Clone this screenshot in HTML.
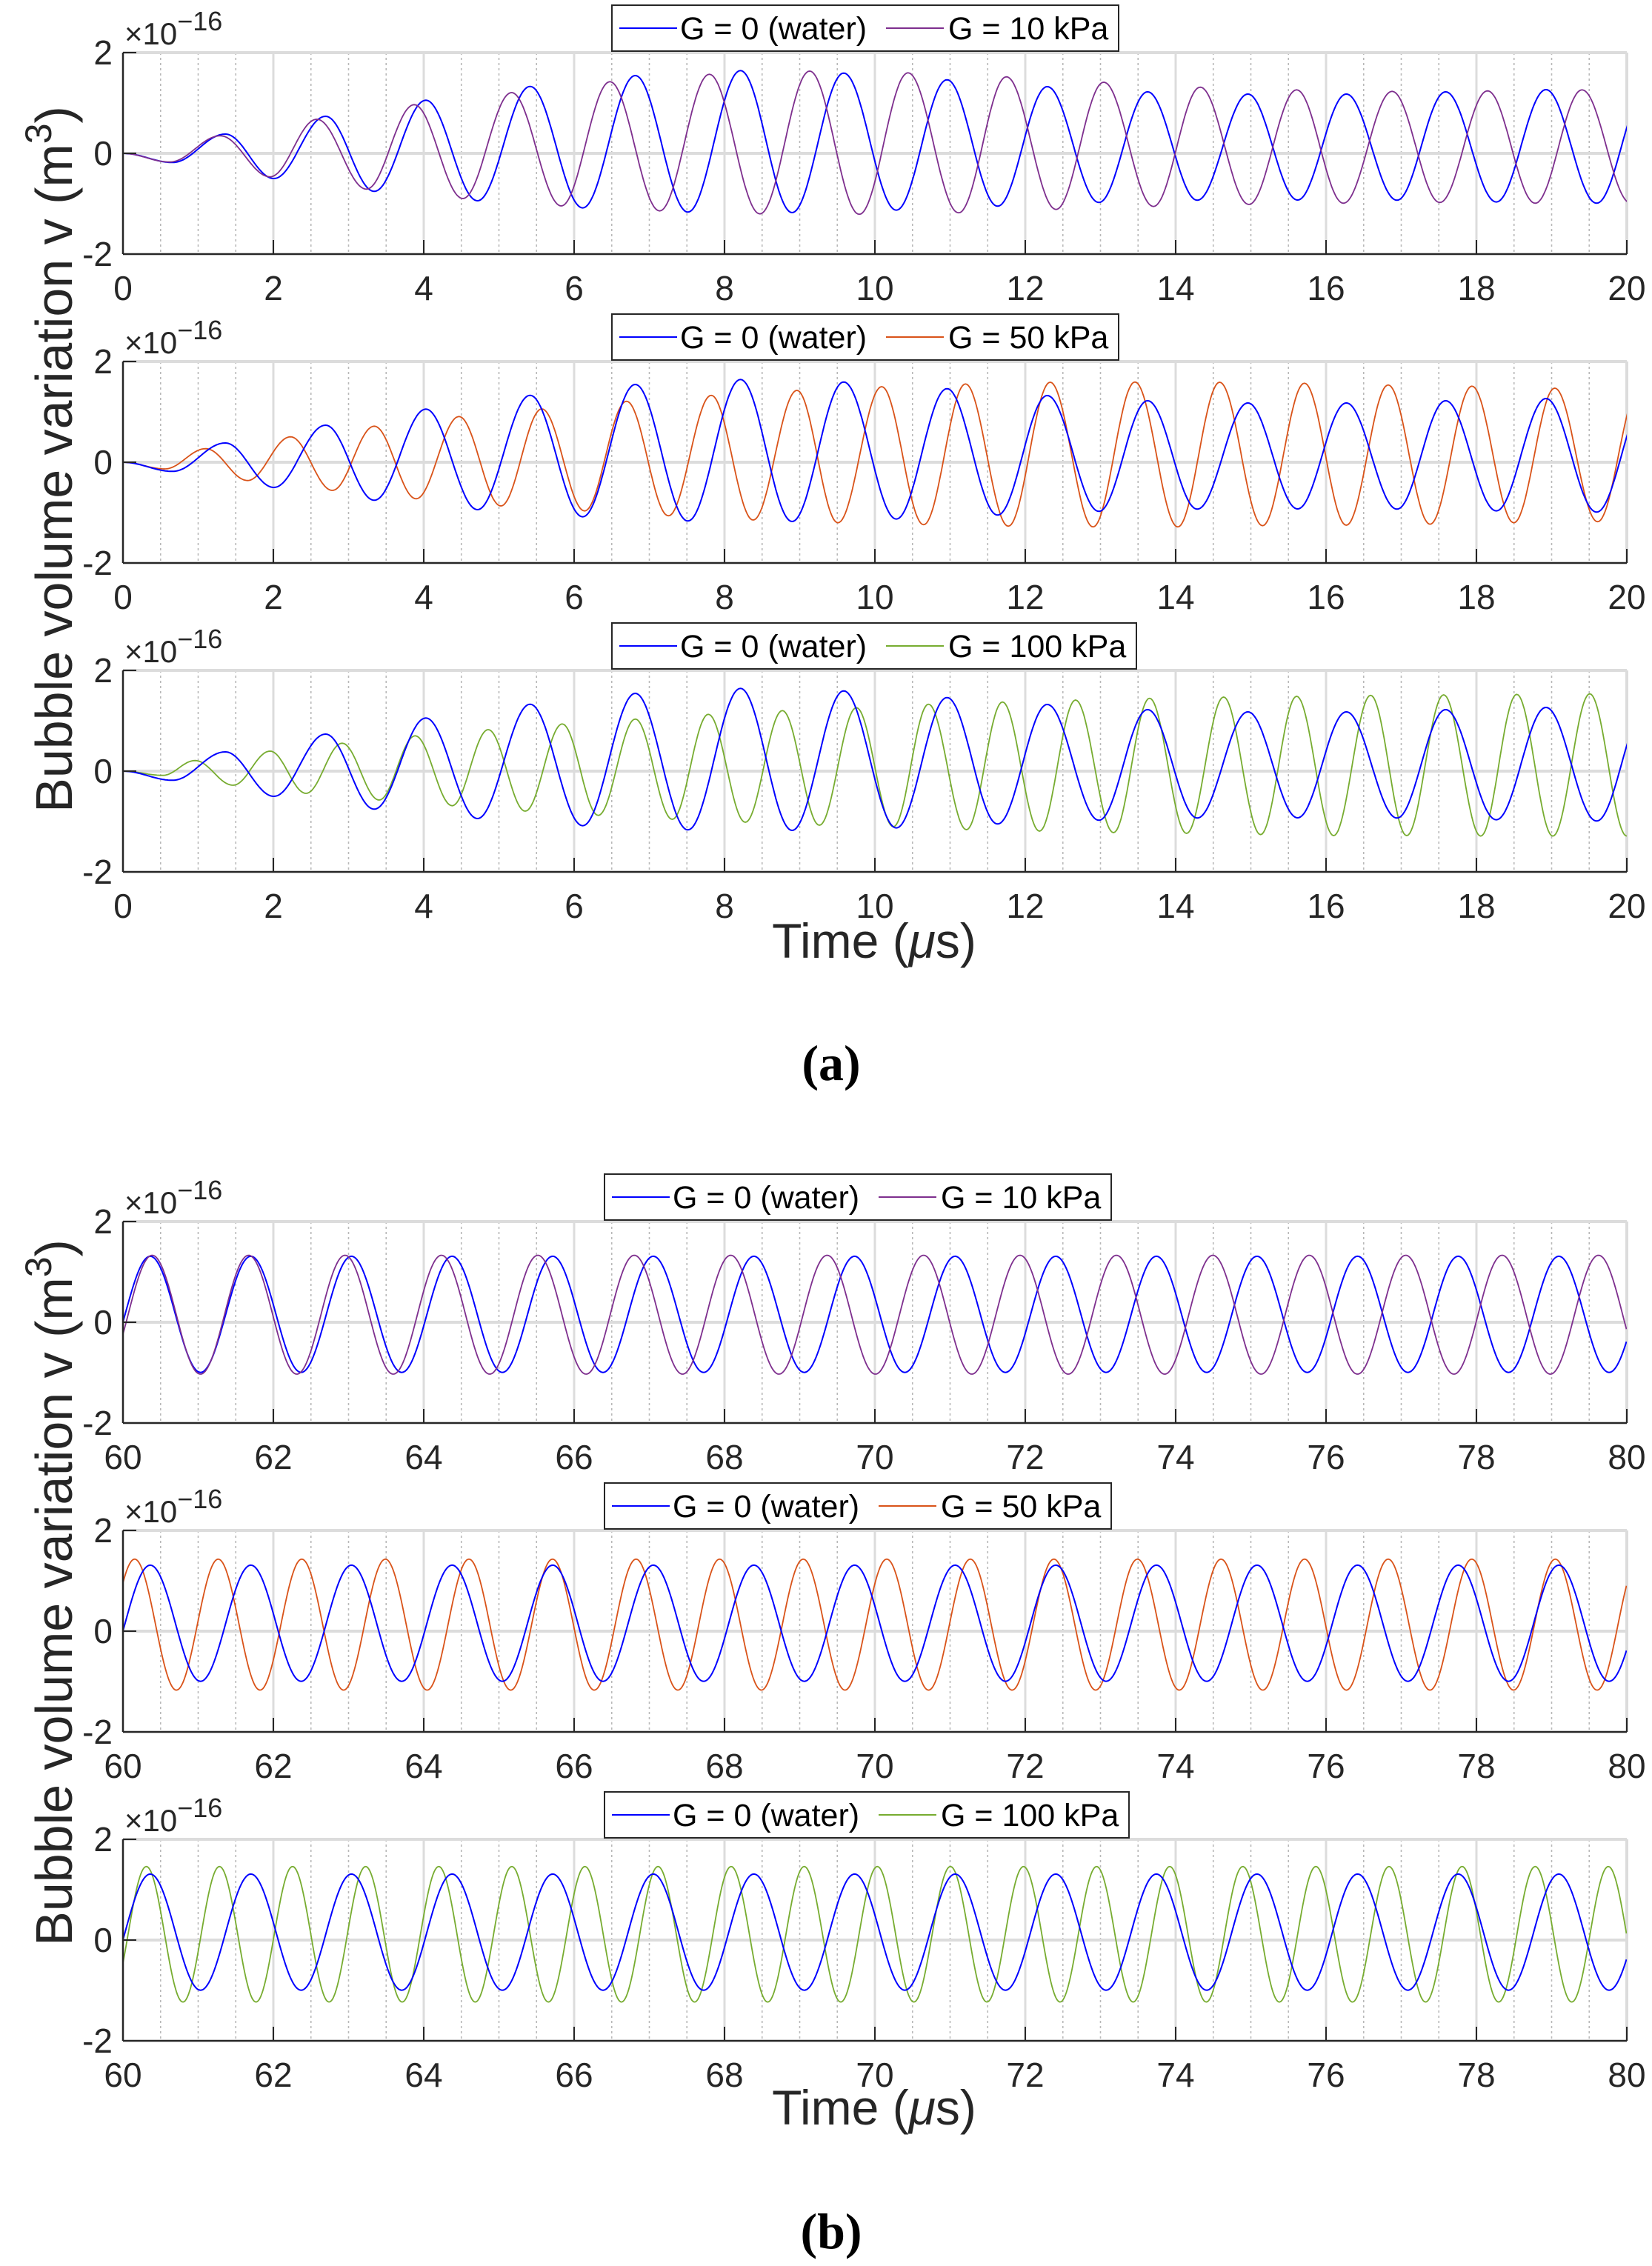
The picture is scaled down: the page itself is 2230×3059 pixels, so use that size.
<!DOCTYPE html>
<html><head><meta charset="utf-8"><style>
html,body{margin:0;padding:0;background:#fff;}
svg{display:block;}
text{font-family:"Liberation Sans",sans-serif;fill:#262626;}
</style></head><body>
<svg id="s" width="2230" height="3059" viewBox="0 0 2230 3059" xmlns="http://www.w3.org/2000/svg"></svg>
<script>
const X0=166, XW=2030, H=272;
const tops=[71,488,905,1649,2066,2483];
const C={b:'#0000ff',p:'#7E2F8E',o:'#D95319',g:'#77AC30'};
const aBlue=[[12,443],[63,480],[117,365],[167,545],[220,293],[270,597],[323,228],[376,635],[430,172],[484,664],[538,128],[592,681],[646,108],[699,683],[752,118],[806,673],[858,145],[910,657],[961,173],[1014,642],[1064,194],[1115,633],[1167,203],[1218,632],[1268,203],[1320,633],[1370,194],[1422,640],[1473,185],[1525,645],[1576,185]];
const aPur=[[12,443],[60,478],[112,372],[163,538],[211,305],[262,588],[311,246],[361,626],[411,197],[462,656],[512,153],[563,676],[614,123],[666,688],[717,110],[768,690],[818,117],[870,684],[919,133],[970,670],[1019,155],[1070,658],[1118,175],[1168,650],[1217,186],[1265,645],[1315,192],[1364,642],[1413,190],[1462,645],[1510,186],[1560,645]];
const aOr=[[12,443],[55,470],[97,388],[140,517],[184,340],[227,557],[270,297],[313,591],[357,258],[400,620],[442,227],[486,640],[529,196],[572,660],[616,172],[659,677],[704,152],[746,688],[791,137],[834,696],[877,126],[921,702],[964,119],[1008,705],[1051,118],[1095,705],[1138,119],[1182,700],[1225,123],[1268,698],[1311,130],[1354,694],[1397,135],[1440,688],[1482,143],[1526,684],[1569,143]];
const aGr=[[12,443],[53,460],[86,400],[125,500],[163,362],[200,533],[237,330],[275,560],[312,300],[350,583],[387,275],[425,605],[463,252],[500,622],[538,232],[576,638],[613,213],[651,650],[689,198],[727,662],[765,186],[803,668],[839,172],[878,680],[915,163],[953,686],[990,155],[1029,692],[1066,148],[1104,695],[1142,143],[1180,700],[1217,140],[1255,704],[1293,136],[1330,704],[1368,134],[1406,706],[1443,132],[1480,706],[1518,130],[1556,706]];
function pathExt(ext,top){
  let d='';
  for(let i=0;i<ext.length-1;i++){
    const a=ext[i],b=ext[i+1];
    const t0=(a[0]-12)/77.2,t1=(b[0]-12)/77.2;
    const v0=(443-a[1])/204,v1=(443-b[1])/204;
    const n=Math.max(6,Math.round((t1-t0)*101.5/2));
    for(let k=(i==0?0:1);k<=n;k++){
      const s=k/n,t=t0+(t1-t0)*s,v=v0+(v1-v0)*(1-Math.cos(Math.PI*s))/2;
      d+=(d?'L':'M')+(X0+t*101.5).toFixed(1)+','+(top+136-v*68).toFixed(1);
    }
  }
  return d;
}
function pathSin(p0,P,vmax,vmin,top){
  const mid=(vmax+vmin)/2,amp=(vmax-vmin)/2;let d='';
  for(let x=0;x<=XW;x+=1.5){
    const zx=12+x/101.5*77.2;
    const v=mid+amp*Math.cos(2*Math.PI*(zx-p0)/P);
    d+=(d?'L':'M')+(X0+x).toFixed(1)+','+(top+136-v*68).toFixed(1);
  }
  return d;
}
let out='<defs>';
tops.forEach((t,i)=>{out+=`<clipPath id="c${i}"><rect x="${X0}" y="${t}" width="${XW}" height="${H}"/></clipPath>`;});
out+='</defs>';
const second=[['G = 10 kPa',C.p],['G = 50 kPa',C.o],['G = 100 kPa',C.g]];
tops.forEach((top,i)=>{
  const isB=i>=3, j=i%3, off=isB?60:0;
  for(let k=1;k<40;k++){ if(k%4==0) continue; const x=X0+k*XW/40;
    out+=`<line x1="${x}" y1="${top}" x2="${x}" y2="${top+H}" stroke="#b8b8b8" stroke-width="1.6" stroke-dasharray="3,4"/>`;}
  for(let k=1;k<10;k++){const x=X0+k*XW/10;
    out+=`<line x1="${x}" y1="${top}" x2="${x}" y2="${top+H}" stroke="#dcdcdc" stroke-width="3"/>`;}
  out+=`<line x1="${X0}" y1="${top+136}" x2="${X0+XW}" y2="${top+136}" stroke="#dcdcdc" stroke-width="4"/>`;
  out+=`<line x1="${X0}" y1="${top}" x2="${X0+XW}" y2="${top}" stroke="#dcdcdc" stroke-width="4"/>`;
  out+=`<line x1="${X0+XW}" y1="${top}" x2="${X0+XW}" y2="${top+H}" stroke="#dcdcdc" stroke-width="4"/>`;
  let d2,db;
  if(!isB){ db=pathExt(aBlue,top); d2=pathExt([aPur,aOr,aGr][j],top);}
  else{ db=pathSin(40,103.3,1.31,-0.995,top);
    d2=[pathSin(42,99,1.33,-1.03,top),pathSin(24,85.8,1.43,-1.17,top),pathSin(36,75.05,1.46,-1.23,top)][j];}
  out+=`<g clip-path="url(#c${i})" fill="none" stroke-linejoin="round">`;
  if(j==0){out+=`<path d="${db}" stroke="${C.b}" stroke-width="2"/><path d="${d2}" stroke="${second[j][1]}" stroke-width="1.8"/>`;}
  else{out+=`<path d="${d2}" stroke="${second[j][1]}" stroke-width="1.8"/><path d="${db}" stroke="${C.b}" stroke-width="2"/>`;}
  out+='</g>';
  out+=`<line x1="${X0}" y1="${top}" x2="${X0}" y2="${top+H}" stroke="#262626" stroke-width="2.5"/>`;
  out+=`<line x1="${X0}" y1="${top+H}" x2="${X0+XW}" y2="${top+H}" stroke="#262626" stroke-width="2.5"/>`;
  for(let k=0;k<=10;k++){const x=X0+k*XW/10;
    out+=`<line x1="${x}" y1="${top+H}" x2="${x}" y2="${top+H-19}" stroke="#262626" stroke-width="2"/>`;
    out+=`<text x="${x}" y="${top+H+62}" font-size="46" text-anchor="middle">${off+2*k}</text>`;}
  [[2,0],[0,136],[-2,272]].forEach(([v,dy])=>{
    out+=`<line x1="${X0}" y1="${top+dy}" x2="${X0+18}" y2="${top+dy}" stroke="#262626" stroke-width="2"/>`;
    out+=`<text x="${X0-14}" y="${top+dy+16}" font-size="46" text-anchor="end">${v<0?'-2':v}</text>`;});
  out+=`<text x="168" y="${top-11}" font-size="42">\u00d710<tspan dy="-19" font-size="36">\u221216</tspan></text>`;
  const L=isB?816:826, W=j==2?708:684, ly=top-64;
  out+=`<rect x="${L}" y="${ly}" width="${W}" height="62" fill="#fff" stroke="#262626" stroke-width="2"/>`;
  out+=`<line x1="${L+10}" y1="${ly+31}" x2="${L+88}" y2="${ly+31}" stroke="${C.b}" stroke-width="2"/>`;
  out+=`<text x="${L+92}" y="${ly+46}" font-size="43" style="fill:#000">G = 0 (water)</text>`;
  out+=`<line x1="${L+370}" y1="${ly+31}" x2="${L+448}" y2="${ly+31}" stroke="${second[j][1]}" stroke-width="2"/>`;
  out+=`<text x="${L+454}" y="${ly+46}" font-size="43" style="fill:#000">${second[j][0]}</text>`;
});
[[620,1293,1458,'(a)'],[2150,2868,3035,'(b)']].forEach(([cy,xy,ly,lab])=>{
  out+=`<text transform="translate(97,${cy}) rotate(-90)" font-size="70" text-anchor="middle">Bubble volume variation v (m<tspan dy="-28" font-size="50">3</tspan><tspan dy="28">)</tspan></text>`;
  out+=`<text x="1180" y="${xy}" font-size="66" text-anchor="middle">Time (<tspan font-style="italic">\u03bc</tspan>s)</text>`;
  out+=`<text x="1122" y="${ly}" font-size="68" font-weight="bold" text-anchor="middle" style="font-family:'Liberation Serif',serif;fill:#000">${lab}</text>`;
});
document.getElementById('s').innerHTML=out;
</script>
</body></html>
